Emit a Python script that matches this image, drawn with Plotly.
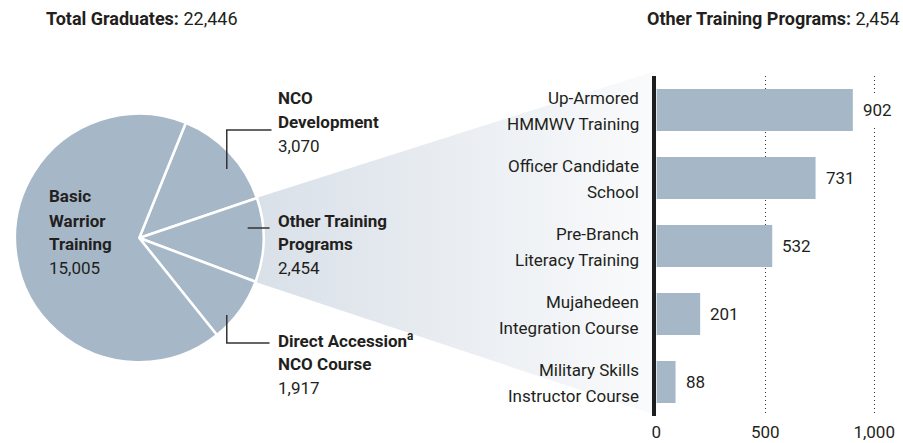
import math
import plotly.graph_objects as go

W, H = 903, 443

# ---------------- data ----------------
pie_labels = ["NCO Development", "Other Training Programs",
              "Direct Accession NCO Course", "Basic Warrior Training"]
pie_values = [3070, 2454, 1917, 15005]
pie_label_lines = [["NCO", "Development"],
                   ["Other Training", "Programs"],
                   ["Direct Accession<sup>a</sup>", "NCO Course"],
                   ["Basic", "Warrior", "Training"]]

bar_categories = ["Up-Armored<br>HMMWV Training",
                  "Officer Candidate<br>School",
                  "Pre-Branch<br>Literacy Training",
                  "Mujahedeen<br>Integration Course",
                  "Military Skills<br>Instructor Course"]
bar_values = [902, 731, 532, 201, 88]
x_tickvals = [0, 500, 1000]
x_ticktext = ["0", "500", "1,000"]

# ---------------- style / layout constants ----------------
FONT = "Roboto, 'Liberation Sans', Arial, sans-serif"
TXT = "#231f20"
SLATE = "#a6b8c8"
FS = 17

PIE_CX, PIE_CY, PIE_R = 135, 238, 125
ROT = 22
AXIS_X0 = 655
PX_PER_UNIT = 0.219
X2_MAX = 1100
Y2_TOP, Y2_BOT = 76, 416

fig = go.Figure()

# gradient wedge (connector) computed from pie geometry
total = sum(pie_values)
a_start = ROT + 360 * pie_values[0] / total
a_end = a_start + 360 * pie_values[1] / total
def pt(a):
    r = math.radians(a)
    return PIE_CX + PIE_R * math.sin(r), PIE_CY - PIE_R * math.cos(r)
p1 = pt(a_start)
p2 = pt(a_end)
wx = [PIE_CX, p1[0], AXIS_X0 - 1, AXIS_X0 - 1, p2[0], PIE_CX]
wy = [PIE_CY, p1[1], 71, 415, p2[1], PIE_CY]
fig.add_trace(go.Scatter(
    x=wx, y=wy, mode="lines", fill="toself", line=dict(width=0),
    fillgradient=dict(type="horizontal",
                      colorscale=[[0, "#d9e0e8"], [1, "#fafbfc"]],
                      start=min(p1[0], p2[0]), stop=AXIS_X0),
    hoverinfo="skip", showlegend=False, xaxis="x", yaxis="y"))

# bars
fig.add_trace(go.Bar(
    x=bar_values, y=bar_categories, orientation="h",
    marker=dict(color=SLATE, line=dict(width=0)),
    xaxis="x2", yaxis="y2", showlegend=False, hoverinfo="x+y"))

# pie
fig.add_trace(go.Pie(
    labels=pie_labels, values=pie_values, sort=False,
    direction="clockwise", rotation=ROT,
    marker=dict(colors=[SLATE] * len(pie_values),
                line=dict(color="white", width=2.5)),
    textinfo="none", showlegend=False,
    domain=dict(x=[(PIE_CX - PIE_R) / W, (PIE_CX + PIE_R) / W],
                y=[1 - (PIE_CY + PIE_R) / H, 1 - (PIE_CY - PIE_R) / H])))

annotations = []
shapes = []

def text(x, y, s, xanchor="left", size=FS, **kw):
    annotations.append(dict(x=x, y=y, xref="x", yref="y", text=s,
                            showarrow=False, xanchor=xanchor, yanchor="middle",
                            align=xanchor, borderpad=0,
                            font=dict(family=FONT, size=size, color=TXT), **kw))

# headline texts
text(40, 18, f"<b>Total Graduates:</b> {total:,}", size=18)
text(901, 18, f"<b>{pie_labels[1]}:</b> {sum(bar_values):,}", xanchor="right", size=18)

# pie labels
label_pos = [(274, [98, 122, 146]), (274, [221, 244, 268]),
             (274, [340, 364, 388]), (43, [196, 221, 244, 268])]
for lines, val, (lx, ys) in zip(pie_label_lines, pie_values, label_pos):
    for s, yy in zip(lines + [f"{val:,}"], ys):
        text(lx, yy, s if s == f"{val:,}" else f"<b>{s}</b>")

# leader lines
LC = "#333333"
for path in ["M223,169 L223,130 L268,130",
             "M244,228 L266,228",
             "M223,315 L223,343 L266,343"]:
    shapes.append(dict(type="path", path=path, xref="x", yref="y",
                       line=dict(color=LC, width=1.5), layer="above"))

# bar category labels (two lines each)
for cat in bar_categories:
    l1, l2 = cat.split("<br>")
    for s, sh in [(l1, 12), (l2, -14)]:
        annotations.append(dict(x=639, y=cat, xref="x", yref="y2", text=s,
                                showarrow=False, xanchor="right", yanchor="middle",
                                align="right", borderpad=0, yshift=sh,
                                font=dict(family=FONT, size=FS, color=TXT)))

# bar value labels
for cat, v in zip(bar_categories, bar_values):
    annotations.append(dict(x=v, y=cat, xref="x2", yref="y2", text=f"{v:,}",
                            showarrow=False, xanchor="left", yanchor="middle",
                            xshift=4, bgcolor="white", borderpad=5,
                            font=dict(family=FONT, size=FS, color=TXT)))

fig.update_layout(
    width=W, height=H, margin=dict(l=0, r=0, t=0, b=0),
    paper_bgcolor="white", plot_bgcolor="rgba(0,0,0,0)",
    bargap=1 - 42 / 68,
    font=dict(family=FONT, color=TXT),
    xaxis=dict(domain=[0, 1], range=[0, W], visible=False, fixedrange=True),
    yaxis=dict(domain=[0, 1], range=[H, 0], visible=False, fixedrange=True),
    xaxis2=dict(domain=[AXIS_X0 / W, (AXIS_X0 + X2_MAX * PX_PER_UNIT) / W],
                range=[0, X2_MAX], anchor="y2",
                tickvals=x_tickvals, ticktext=x_ticktext,
                showgrid=True, gridcolor="#333333", griddash="1px,3px", gridwidth=1,
                zeroline=False, showline=False, ticks="",
                tickfont=dict(family=FONT, size=FS, color=TXT),
                ticklabelstandoff=4, fixedrange=True),
    yaxis2=dict(domain=[1 - Y2_BOT / H, 1 - Y2_TOP / H], anchor="x2",
                autorange="reversed", showticklabels=False,
                showline=True, linewidth=4, linecolor="#1e1e1e",
                showgrid=False, zeroline=False, ticks="", fixedrange=True),
    annotations=annotations, shapes=shapes,
)

fig.write_html("out.html", config={"displayModeBar": False},
               post_script="document.body.style.margin='0';document.body.style.padding='0';")
